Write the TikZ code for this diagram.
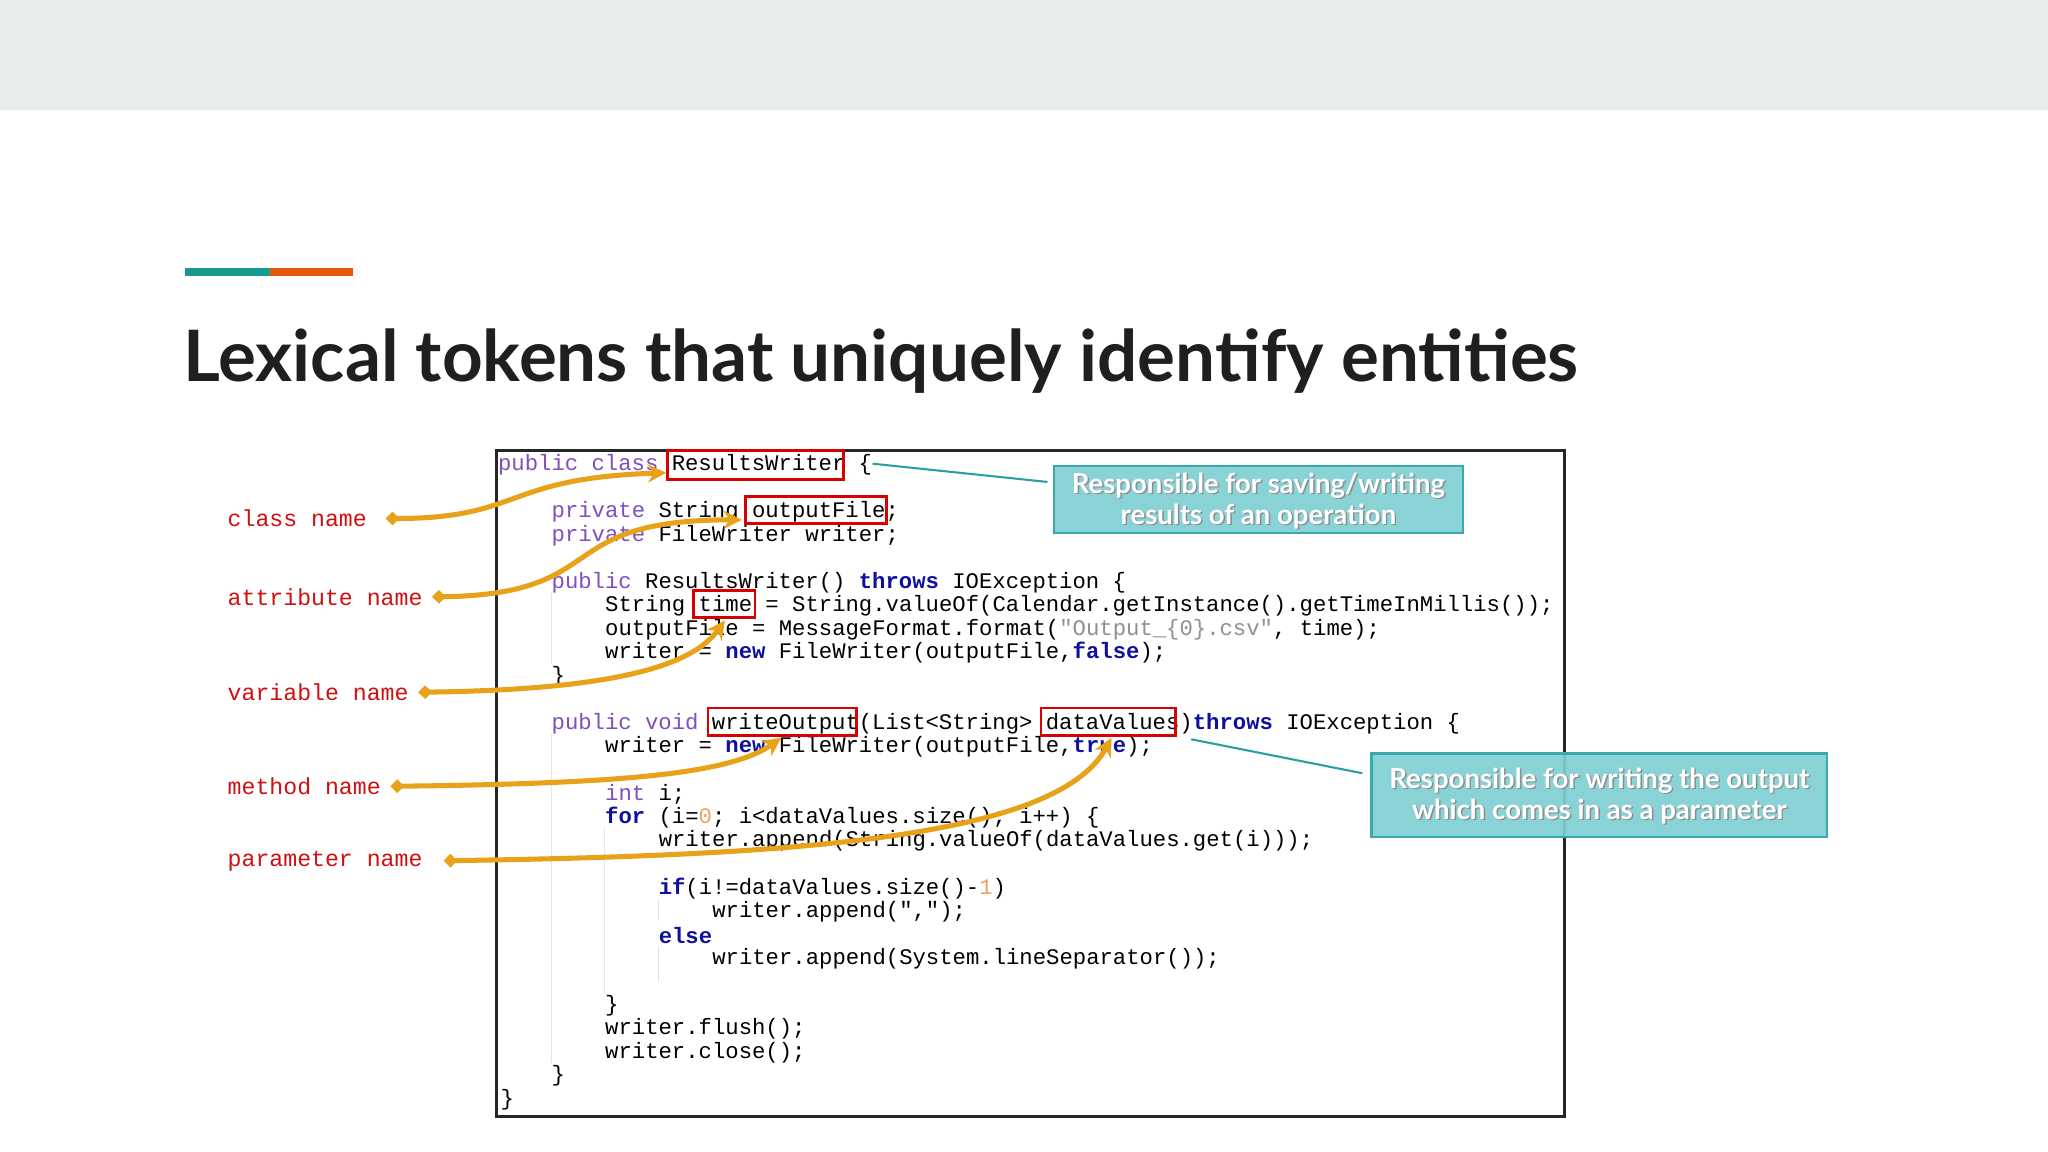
\documentclass[tikz,border=0pt]{standalone}
\usepackage{fontspec}
\setmainfont{Lato}
\setmonofont{Liberation Mono}
\usetikzlibrary{arrows.meta}
\definecolor{band}{HTML}{E9EDEB}
\definecolor{tealbar}{HTML}{16998F}
\definecolor{orangebar}{HTML}{E05A0A}
\definecolor{kwp}{HTML}{7F4FBF}
\definecolor{kwb}{HTML}{1010A0}
\definecolor{strg}{HTML}{909090}
\definecolor{numo}{HTML}{F0A060}
\definecolor{arr}{HTML}{E8A21A}
\definecolor{lblred}{HTML}{D01010}
\definecolor{calfill}{HTML}{7FCFD2}
\definecolor{caledge}{HTML}{3AA9AE}
\definecolor{tline}{HTML}{2A9EA2}
\newcommand{\kwP}[1]{\textcolor{kwp}{#1}}
\newcommand{\kwB}[1]{\textcolor{kwb}{\bfseries #1}}
\newcommand{\stG}[1]{\textcolor{strg}{#1}}
\newcommand{\nmO}[1]{\textcolor{numo}{#1}}
\begin{document}
\begin{tikzpicture}[x=0.02cm,y=-0.02cm,
  code/.style={anchor=west,inner sep=0,yshift=-1.1pt,font=\fontsize{9.7pt}{11pt}\ttfamily},
  lbl/.style={anchor=west,inner sep=0,text=lblred,font=\fontsize{10.1pt}{12pt}\ttfamily},
  hl/.style={draw=red!85!black,line width=1.2pt},
  pointer/.style={draw=arr,line width=2.2pt,{Diamond[length=6pt,width=6pt]}-{Stealth[length=8pt,width=8pt]}},
  callout/.style={fill=calfill,fill opacity=0.92,draw=caledge,line width=1pt,text opacity=1},
  caltext/.style={align=center,text=white,font=\fontsize{12pt}{13.5pt}\bfseries,inner sep=0},
  calshadow/.style={align=center,text=black!45,font=\fontsize{12pt}{13.5pt}\bfseries,inner sep=0},
  tie/.style={draw=tline,line width=0.9pt}]
\useasboundingbox (0,0) rectangle (1568,882);
\fill[white] (0,0) rectangle (1568,882);
\fill[band] (0,0) rectangle (1568,84);
\fill[tealbar] (142,205) rectangle (207,211);
\fill[orangebar] (207,205) rectangle (270,211);
\node[anchor=base west,inner sep=0] (title) at (140,292)
  {\resizebox{608pt}{!}{\fontsize{31.5pt}{36pt}\bfseries\color{black!88}Lexical tokens that uniquely identify entities}};
% code box
\draw[line width=1.1pt,black!85] (380,345) rectangle (1198,855);
\draw[black!10,line width=0.6pt] (422,454) -- (422,508) (422,562) -- (422,814) (463,634) -- (463,760) (504,688) -- (504,705) (504,724) -- (504,752);
% code
\node[code] (l1) at (381,354) {\kwP{public class} ResultsWriter \{};
\node[code] (l2) at (422,390) {\kwP{private} String outputFile;};
\node[code] (l3) at (422,408) {\kwP{private} FileWriter writer;};
\node[code] (l4) at (422,444) {\kwP{public} ResultsWriter() \kwB{throws} IOException \{};
\node[code] (l5) at (463,462) {String time =  String.valueOf(Calendar.getInstance().getTimeInMillis());};
\node[code] (l6) at (463,480) {outputFile = MessageFormat.format(\stG{"Output\_\{0\}.csv"}, time);};
\node[code] (l7) at (463,498) {writer = \kwB{new} FileWriter(outputFile,\kwB{false});};
\node[code] (l8) at (422,516) {\}};
\node[code] (l9) at (422,552) {\kwP{public void} writeOutput(List<String> dataValues)\kwB{throws} IOException \{};
\node[code] (l10) at (463,570) {writer = \kwB{new} FileWriter(outputFile,\kwB{true});};
\node[code] (l11) at (463,606) {\kwP{int} i;};
\node[code] (l12) at (463,624) {\kwB{for} (i=\nmO{0}; i<dataValues.size(); i++) \{};
\node[code] (l13) at (504,642) {writer.append(String.valueOf(dataValues.get(i)));};
\node[code] (l14) at (504,678) {\kwB{if}(i!=dataValues.size()-\nmO{1})};
\node[code] (l15) at (545,696) {writer.append(",");};
\node[code] (l16) at (504,714) {\kwB{else}};
\node[code] (l17) at (545,732) {writer.append(System.lineSeparator());};
\node[code] (l18) at (463,768) {\}};
\node[code] (l19) at (463,786) {writer.flush();};
\node[code] (l20) at (463,804) {writer.close();};
\node[code] (l21) at (422,822) {\}};
\node[code] (l22) at (383,840) {\}};
% highlight boxes
\draw[hl] (511,345) rectangle (646,367);
\draw[hl] (571,380) rectangle (679,401);
\draw[hl] (531,452) rectangle (578,473);
\draw[hl] (542,542) rectangle (656,563);
\draw[hl] (797,542) rectangle (900,563);
\coordinate (tClass) at (510,362);
\coordinate (tAttr) at (568,398);
\coordinate (tVar) at (555,475);
\coordinate (tMeth) at (598,565);
\coordinate (tPar) at (851,565);
% labels
\node[lbl] (cn) at (174,397) {class name};
\node[lbl] (an) at (174,457) {attribute name};
\node[lbl] (vn) at (174,530) {variable name};
\node[lbl] (mn) at (174,602) {method name};
\node[lbl] (pn) at (174,659) {parameter name};
% arrows
\draw[pointer] ([xshift=8pt]cn.east) .. controls (400,397) and (385,366) .. (tClass);
\draw[pointer] ([xshift=4pt]an.east) .. controls (470,455) and (420,398) .. (tAttr);
\draw[pointer] ([xshift=4pt]vn.east) .. controls (470,528) and (530,510) .. (tVar);
\draw[pointer] ([xshift=4pt]mn.east) .. controls (480,600) and (560,592) .. (tMeth);
\draw[pointer] ([xshift=9pt]pn.east) .. controls (620,655) and (810,640) .. (tPar);
% callouts
\coordinate (c1a) at (668,355);
\coordinate (c2a) at (912,566);
\path[callout] (807,357) rectangle (1120,408);
\coordinate (cb1) at (802,369);
\node[calshadow] at (964.6,384.6) {Responsible for saving/writing\\results of an operation};
\node[caltext] (cal1) at (963.5,383.5) {Responsible for saving/writing\\results of an operation};
\path[callout] (1050,577) rectangle (1399,641);
\coordinate (cb2) at (1043,592);
\node[calshadow] at (1225.6,610.6) {Responsible for writing the output\\which comes in as a parameter};
\node[caltext] (cal2) at (1224.5,609.5) {Responsible for writing the output\\which comes in as a parameter};
\draw[tie] (c1a) -- (cb1);
\draw[tie] (c2a) -- (cb2);
\end{tikzpicture}
\end{document}
